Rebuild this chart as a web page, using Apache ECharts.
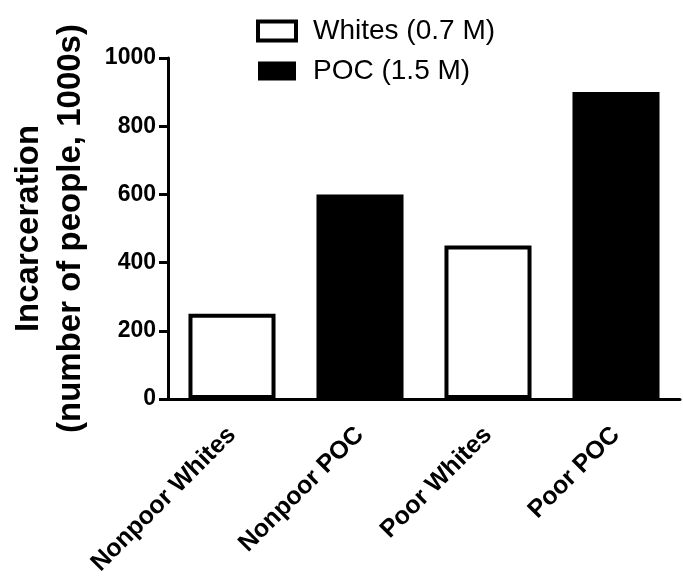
<!DOCTYPE html>
<html>
<head>
<meta charset="utf-8">
<script src="https://cdn.jsdelivr.net/npm/echarts@6/dist/echarts.min.js"></script>
<style>
html,body{margin:0;padding:0;background:#fff;}
#chart{width:683px;height:583px;}
</style>
</head>
<body>
<div id="chart"></div>
<script>
var categories = ['Nonpoor Whites', 'Nonpoor POC', 'Poor Whites', 'Poor POC'];
var whitesValues = [250, null, 450, null];
var pocValues = [null, 600, null, 900];
var seriesNames = ['Whites (0.7 M)', 'POC (1.5 M)'];
var yTicks = [0, 200, 400, 600, 800, 1000];

var FONT = 'Liberation Sans, Arial, sans-serif';
var chart = echarts.init(document.getElementById('chart'));
chart.setOption({
  animation: false,
  backgroundColor: '#fff',
  legend: {
    orient: 'vertical',
    left: 251,
    top: 12,
    itemWidth: 38,
    itemHeight: 19,
    itemGap: 12,
    textStyle: { fontFamily: FONT, fontSize: 28, color: '#000', padding: [0, 0, 0, 12] },
    data: [
      { name: seriesNames[0], icon: 'rect', itemStyle: { color: '#fff', borderColor: '#000', borderWidth: 4 } },
      { name: seriesNames[1], icon: 'rect', itemStyle: { color: '#000', borderColor: '#000', borderWidth: 0 } }
    ]
  },
  grid: { left: 165, right: 3, top: 58, bottom: 184, containLabel: false },
  xAxis: {
    type: 'category',
    data: categories,
    axisLine: { lineStyle: { color: '#000', width: 3 } },
    axisTick: { alignWithLabel: true, length: 9, lineStyle: { color: '#000', width: 3 } },
    axisLabel: { rotate: 45, margin: 32, interval: 0, fontFamily: FONT, fontWeight: 'bold', fontSize: 25, color: '#000' }
  },
  yAxis: {
    type: 'value',
    min: yTicks[0],
    max: yTicks[yTicks.length - 1],
    interval: 200,
    name: 'Incarceration\n(number of people, 1000s)',
    nameLocation: 'middle',
    nameRotate: 90,
    nameGap: 76,
    nameTextStyle: { fontFamily: FONT, fontWeight: 'bold', fontSize: 33, lineHeight: 42, color: '#000' },
    splitLine: { show: false },
    axisLine: { show: true, lineStyle: { color: '#000', width: 3 } },
    axisTick: { show: true, length: 9, lineStyle: { color: '#000', width: 3 } },
    axisLabel: { margin: 12, fontFamily: FONT, fontWeight: 'bold', fontSize: 23, color: '#000', formatter: function (v) { return String(v); } }
  },
  series: [
    {
      name: seriesNames[0],
      type: 'bar',
      data: whitesValues,
      barWidth: '68%',
      barGap: '-100%',
      itemStyle: { color: '#fff', borderColor: '#000', borderWidth: 4 }
    },
    {
      name: seriesNames[1],
      type: 'bar',
      data: pocValues,
      barWidth: '68%',
      barGap: '-100%',
      itemStyle: { color: '#000', borderColor: '#000', borderWidth: 0 }
    }
  ]
});
</script>
</body>
</html>
